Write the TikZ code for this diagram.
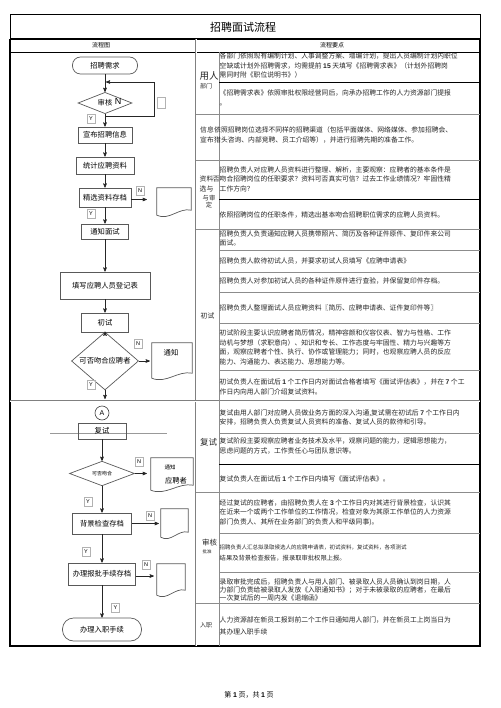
\documentclass[tikz,border=0pt]{standalone}
\usepackage{fontspec}
\setmainfont{Noto Sans CJK SC}
\newfontfamily\latinsf{Liberation Sans}
\usetikzlibrary{arrows,shapes.geometric,calc}

\newcommand{\flowfont}{\fontsize{7.3}{9}\selectfont}
\newcommand{\cellfont}{\fontsize{6.8}{9.5}\selectfont}
\newcommand{\bnum}[1]{{\latinsf\bfseries #1}}
% outline of a document symbol (wavy bottom) round an empty node
\newcommand{\docline}[1]{%
  \draw[box line] (#1.north east) -- (#1.north west) -- ([yshift=2pt]#1.south west)
    .. controls ($(#1.south west)!.35!(#1.south east)+(0pt,-4pt)$)
    and ($(#1.south west)!.65!(#1.south east)+(0pt,10pt)$) .. ([yshift=7pt]#1.south east) -- cycle;}

\begin{document}
\begin{tikzpicture}[x=1pt,y=-1pt,>=stealth',
  box line/.style={draw=black!65,line width=.7pt},
  flow box/.style={rectangle,box line,inner sep=0pt,font=\flowfont},
  end node/.style={flow box,rounded corners=8pt},
  check node/.style={diamond,box line,inner sep=0pt,font=\flowfont},
  doc node/.style={inner sep=0pt},
  yn node/.style={draw=black!30,line width=.4pt,inner sep=0pt,minimum width=8pt,
    minimum height=9pt,font=\latinsf\fontsize{5.5}{6}\selectfont},
  flow arrow/.style={->,black!85,line width=.6pt},
  cell text/.style={anchor=west,align=left,inner sep=0pt,font=\cellfont,text=black!85},
  cat text/.style={inner sep=0pt,align=left,text=black!85},
  grid line/.style={black!45,line width=.7pt},
  strong line/.style={black,line width=1pt}]
  \useasboundingbox (0,0) rectangle (500,708);

  % frame of the table
  \draw[line width=.6pt] (10,39) -- (10,14) -- (480,14) -- (480,39);
  \draw[line width=1.4pt] (10,39) -- (480,39);
  \draw[line width=1.6pt] (10,39) -- (10,646) -- (480,646) -- (480,39);
  \draw[line width=.8pt] (10,52) -- (480,52);
  \draw[black!50,double,double distance=1pt,line width=.5pt] (196,39) -- (196,646);
  \draw[black!50,double,double distance=1pt,line width=.5pt] (10,401) -- (480,401);
  \draw[grid line] (219,52) -- (219,646);
  \foreach \y in {114,160,229,492,603} \draw[grid line] (196,\y) -- (480,\y);
  \foreach \y in {250,272,292,323,370,433,533,572} \draw[grid line] (219,\y) -- (480,\y);
  \foreach \y in {83,200,464} \draw[strong line] (219,\y) -- (480,\y);

  \node[font=\fontsize{11}{12}\selectfont] (title) at (243,27) {招聘面试流程};
  \node[font=\fontsize{6}{7}\selectfont] (headL) at (101,45.5) {流程图};
  \node[font=\fontsize{6}{7}\selectfont] (headR) at (332,45.5) {流程要点};

  % flow chart, first part
  \node[end node,minimum width=65pt,minimum height=17pt] (need) at (105,65.5) {招聘需求};
  \node[check node,minimum width=54pt,minimum height=20pt] (check) at (105,103) {审核};
  \node[font=\latinsf\fontsize{9}{10}\selectfont] (checkN) at (118,101) {N};
  \node[draw=black!30,line width=.4pt,minimum width=8pt,minimum height=11pt,inner sep=0pt] (blank) at (161,102.5) {};
  \node[yn node] (y1) at (91,118.5) {Y};
  \node[flow box,minimum width=54pt,minimum height=16pt] (publish) at (105,135) {宣布招聘信息};
  \node[flow box,minimum width=58pt,minimum height=17pt] (count) at (105,165.5) {统计应聘资料};
  \node[flow box,minimum width=52pt,minimum height=19pt] (select) at (105,197.5) {精选资料存档};
  \node[yn node] (n1) at (140,191) {N};
  \node[doc node,minimum width=34pt,minimum height=29pt] (doc1) at (174,202.5) {};
  \node[yn node] (y2) at (91,214) {Y};
  \node[flow box,minimum width=47pt,minimum height=15pt] (notify) at (105,231.5) {通知面试};
  \node[flow box,minimum width=90pt,minimum height=27pt] (form) at (105,285.5) {填写应聘人员登记表};
  \node[flow box,minimum width=47pt,minimum height=19pt] (first) at (105,322.5) {初试};
  \node[check node,minimum width=67pt,minimum height=28pt] (fit1) at (105,361) {可否吻合应聘者};
  \node[yn node] (n2) at (138,344) {N};
  \node[doc node,minimum width=40pt,minimum height=37pt] (doc2) at (172,361.5) {};
  \node[font=\flowfont] (doc2txt) at (171,353) {通知};
  \node[yn node] (y3) at (91,385) {Y};
  \coordinate (toA) at (105,399);
  \coordinate (loopa) at (105,116);
  \coordinate (loopb) at (154,82);
  \coordinate (loopc) at (106,82);

  % flow chart, second part
  \node[circle,draw=black!75,line width=.6pt,minimum size=14pt,inner sep=0pt,
    font=\latinsf\fontsize{7}{8}\selectfont] (A) at (102,413) {A};
  \draw[black!40,line width=.4pt] (50,433) -- (167,433);
  \node[flow box,minimum width=48pt,minimum height=16pt] (second) at (102,431) {复试};
  \node[check node,minimum width=65pt,minimum height=23pt,font=\fontsize{5}{6}\selectfont] (fit2) at (102,473.5) {可否吻合};
  \node[yn node] (n3) at (139,462) {N};
  \node[doc node,minimum width=42pt,minimum height=34pt] (doc3) at (172,475) {};
  \node[font=\fontsize{5.5}{6}\selectfont] (doc3a) at (170,467.5) {通知};
  \node[font=\flowfont] (doc3b) at (176,481) {应聘者};
  \node[yn node] (y4) at (88,502) {Y};
  \node[flow box,minimum width=59pt,minimum height=21pt] (bgcheck) at (102,523.5) {背景检查存档};
  \node[yn node] (n4) at (150,516) {N};
  \node[doc node,minimum width=27pt,minimum height=30pt] (doc4) at (174.5,524) {};
  \node[yn node] (y5) at (86,552) {Y};
  \node[flow box,minimum width=67pt,minimum height=22pt] (approve) at (102,574) {办理报批手续存档};
  \node[yn node] (n5) at (146,565) {N};
  \node[doc node,minimum width=28pt,minimum height=33pt] (doc5) at (171,580.5) {};
  \node[yn node] (y6) at (115.5,608) {Y};
  \node[end node,minimum width=79pt,minimum height=23pt,rounded corners=11pt] (onboard) at (102,629.5) {办理入职手续};

  \foreach \d in {doc1,doc2,doc3,doc4,doc5} \docline{\d};

  \draw[flow arrow] (need) -- (check);
  \draw[flow arrow] (check) -- (publish);
  \draw[flow arrow] (loopa) -| (loopb) -- (loopc);
  \draw[flow arrow] (publish) -- (count);
  \draw[flow arrow] (count) -- (select);
  \draw[flow arrow,shorten >=10pt] ([yshift=-2pt]select.east) -- ([yshift=-2pt]select.east -| doc1.west);
  \draw[flow arrow] (select) -- (notify);
  \draw[flow arrow] (notify) -- (form);
  \draw[flow arrow] (form) -- (first);
  \draw[flow arrow] (first) -- (fit1);
  \draw[flow arrow,shorten >=2pt] (fit1.east) -- (fit1.east -| doc2.west);
  \draw[flow arrow] (fit1) -- (toA);
  \draw[flow arrow] (second) -- (fit2);
  \draw[flow arrow,shorten >=4pt] (fit2.east) -- (fit2.east -| doc3.west);
  \draw[flow arrow] (fit2) -- (bgcheck);
  \draw[flow arrow,shorten >=2pt] (bgcheck.east) -- (bgcheck.east -| doc4.west);
  \draw[flow arrow] (bgcheck) -- (approve);
  \draw[flow arrow,shorten >=3pt] ([yshift=-2pt]approve.east) -- ([yshift=-2pt]approve.east -| doc5.west);
  \draw[flow arrow] (approve) -- (onboard);

  % stage names
  \node[cat text,font=\fontsize{9.5}{10}\selectfont] (catA) at (209,76) {用人};
  \node[cat text,font=\fontsize{6}{7}\selectfont] (catAs) at (206,86) {部门};
  \node[cat text,anchor=west,font=\cellfont] (catB) at (200,135) {信息\\宣布};
  \node[cat text,anchor=west,font=\cellfont] (catC) at (199.5,184) {资料\\选与};
  \node[cat text,align=center,font=\fontsize{6.3}{7}\selectfont] (catCs) at (209,201.5) {与审\\定};
  \node[cat text,font=\cellfont] (catD) at (207.5,316) {初试};
  \node[cat text,font=\fontsize{8.5}{9}\selectfont] (catE) at (208.5,442) {复试};
  \node[cat text,font=\fontsize{7.5}{8}\selectfont] (catF) at (209.5,543) {审核};
  \node[cat text,font=\fontsize{4.5}{5}\selectfont] (catFs) at (207,552) {批准};
  \node[cat text,font=\fontsize{6}{7}\selectfont] (catG) at (206,625) {入职};

  % main points
  \node[cell text] (r1) at (219.5,65.5) {各部门依照现有编制计划、人事调整方案、增编计划，提出人员编制计划内职位\\
    空缺或计划外招聘需求，均需提前 \bnum{15} 天填写《招聘需求表》（计划外招聘岗\\
    需同时附《职位说明书》）};
  \node[cell text] (r2) at (219.5,98) {《招聘需求表》依照审批权限经营同后，向承办招聘工作的人力资源部门提报\\。};
  \node[cell text] (r3) at (214,135) {依照招聘岗位选择不同样的招聘渠道（包括平面媒体、网络媒体、参加招聘会、\\
    猎头咨询、内部竞聘、员工介绍等），并进行招聘先期的准备工作。};
  \node[cell text] (r4) at (219.5,179) {招聘负责人对应聘人员资料进行整理、解析，主要观察：应聘者的基本条件是\\
    \llap{否}吻合招聘岗位的任职要求？资料可否真实可信？过去工作业绩情况？牢固性精\\
    工作方向？};
  \node[cell text] (r5) at (219.5,215) {依照招聘岗位的任职条件，精选出基本吻合招聘职位需求的应聘人员资料。};
  \node[cell text] (r6) at (219.5,238.5) {招聘负责人负责通知应聘人员携带照片、简历及各种证件原件、复印件来公司\\面试。};
  \node[cell text] (r7) at (219.5,261) {招聘负责人款待初试人员，并要求初试人员填写《应聘申请表》};
  \node[cell text] (r8) at (219.5,281) {招聘负责人对参加初试人员的各种证件原件进行查验，并保留复印件存档。};
  \node[cell text] (r9) at (219.5,308) {招聘负责人整理面试人员应聘资料〖简历、应聘申请表、证件复印件等〗};
  \node[cell text] (r10) at (219.5,347.5) {初试阶段主要认识应聘者简历情况，精神容颜和仪容仪表、智力与性格、工作\\
    动机与梦想（求职意向）、知识和专长、工作态度与牢固性、精力与兴趣等方\\
    面，观察应聘者个性、执行、协作或管理能力；同时，也观察应聘人员的反应\\
    能力、沟通能力、表达能力、思想能力等。};
  \node[cell text] (r11) at (219.5,387) {初试负责人在面试后 \bnum{1} 个工作日内对面试合格者填写《面试评估表》，并在 \bnum{7} 个工\\
    作日内向用人部门介绍复试资料。};
  \node[cell text] (r12) at (219.5,417.5) {复试由用人部门对应聘人员做业务方面的深入沟通,复试需在初试后 \bnum{7} 个工作日内\\
    安排，招聘负责人负责复试人员资料的准备、复试人员的款待和引导。};
  \node[cell text] (r13) at (219.5,446) {复试阶段主要观察应聘者业务技术及水平，观察问题的能力，逻辑思想能力，\\
    思虑问题的方式，工作责任心与团队意识等。};
  \node[cell text] (r14) at (219.5,479) {复试负责人在面试后 \bnum{1} 个工作日内填写《面试评估表》。};
  \node[cell text] (r15) at (219.5,512.5) {经过复试的应聘者，由招聘负责人在 \bnum{3} 个工作日内对其进行背景检查，认识其\\
    在近来一个或两个工作单位的工作情况，检查对象为其原工作单位的人力资源\\
    部门负责人、其所在业务部门的负责人和平级同事)。};
  \node[cell text,font=\fontsize{5.5}{6}\selectfont] (r16a) at (219.5,547) {招聘负责人汇总拟录取候选人的应聘申请表，初试资料，复试资料，各项测试};
  \node[cell text,font=\fontsize{6.3}{7}\selectfont] (r16b) at (219.5,558) {结果及背景检查报告，报录取审批权限上报。};
  \node[cell text,font=\fontsize{6.8}{8}\selectfont] (r17) at (219.5,590) {录取审批完成后，招聘负责人与用人部门、被录取人员人员确认到岗日期，人\\
    力部门负责给被录取人发放《入职通知书》；对于未被录取的应聘者，在最后\\
    一次复试后的一周内发《退缩函》};
  \node[cell text,font=\fontsize{6.8}{12}\selectfont] (r18) at (219.5,626) {人力资源部在新员工报到前二个工作日通知用人部门，并在新员工上岗当日为\\
    其办理入职手续};

  \node[font=\fontsize{7}{8}\selectfont] (foot) at (249,695) {第 \bnum{1} 页，共 \bnum{1} 页};
\end{tikzpicture}
\end{document}
